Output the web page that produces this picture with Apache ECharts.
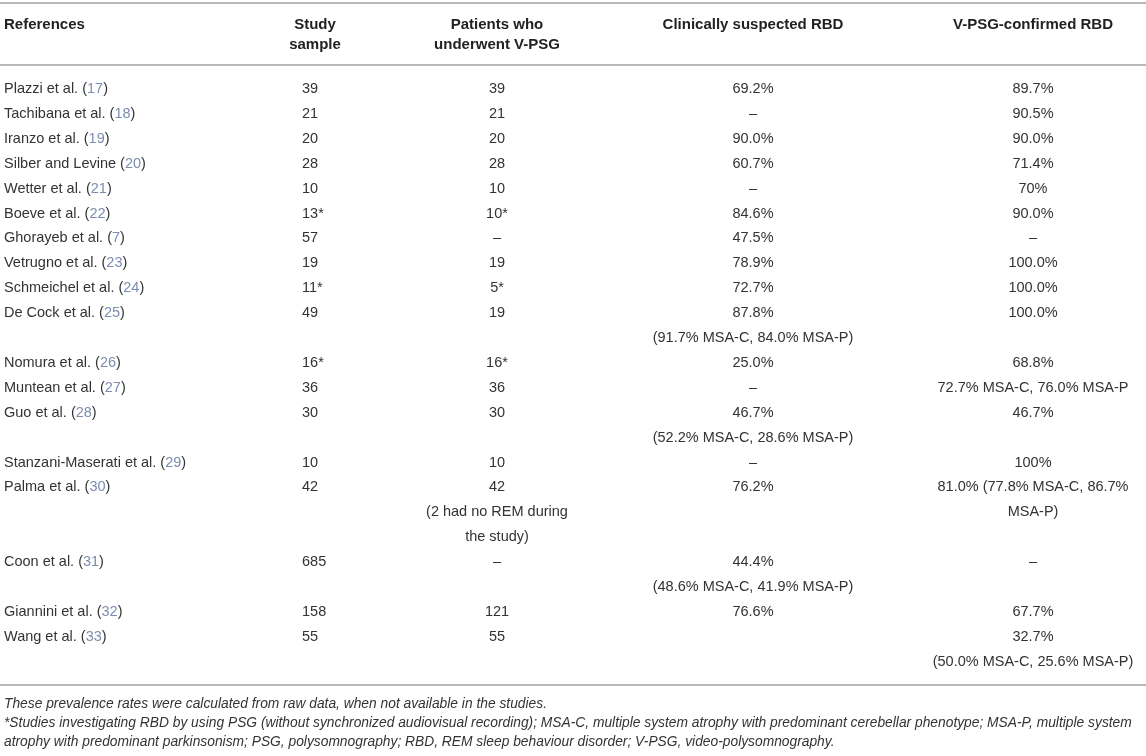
<!DOCTYPE html>
<html>
<head>
<meta charset="utf-8">
<script src="https://cdn.jsdelivr.net/npm/echarts@6/dist/echarts.min.js"></script>
<style>
  html, body { margin: 0; padding: 0; background: #fff; }
  #chart { width: 1146px; height: 756px; }
</style>
</head>
<body>
<div id="chart"></div>
<script>
const headers = ['References', 'Study\nsample', 'Patients who\nunderwent V-PSG', 'Clinically suspected RBD', 'V-PSG-confirmed RBD'];

const authors = [
  'Plazzi et al.', 'Tachibana et al.', 'Iranzo et al.', 'Silber and Levine', 'Wetter et al.',
  'Boeve et al.', 'Ghorayeb et al.', 'Vetrugno et al.', 'Schmeichel et al.', 'De Cock et al.',
  'Nomura et al.', 'Muntean et al.', 'Guo et al.', 'Stanzani-Maserati et al.', 'Palma et al.',
  'Coon et al.', 'Giannini et al.', 'Wang et al.'
];
const cites = ['17', '18', '19', '20', '21', '22', '7', '23', '24', '25', '26', '27', '28', '29', '30', '31', '32', '33'];
const sample = ['39', '21', '20', '28', '10', '13*', '57', '19', '11*', '49', '16*', '36', '30', '10', '42', '685', '158', '55'];
const vpsg = ['39', '21', '20', '28', '10', '10*', '–', '19', '5*', '19', '16*', '36', '30', '10',
  '42\n(2 had no REM during\nthe study)', '–', '121', '55'];
const suspected = ['69.2%', '–', '90.0%', '60.7%', '–', '84.6%', '47.5%', '78.9%', '72.7%',
  '87.8%\n(91.7% MSA-C, 84.0% MSA-P)', '25.0%', '–', '46.7%\n(52.2% MSA-C, 28.6% MSA-P)', '–',
  '76.2%', '44.4%\n(48.6% MSA-C, 41.9% MSA-P)', '76.6%', ''];
const confirmed = ['89.7%', '90.5%', '90.0%', '71.4%', '70%', '90.0%', '–', '100.0%', '100.0%', '100.0%',
  '68.8%', '72.7% MSA-C, 76.0% MSA-P', '46.7%', '100%', '81.0% (77.8% MSA-C, 86.7%\nMSA-P)', '–',
  '67.7%', '32.7%\n(50.0% MSA-C, 25.6% MSA-P)'];

const notes = [
  'These prevalence rates were calculated from raw data, when not available in the studies.',
  '*Studies investigating RBD by using PSG (without synchronized audiovisual recording); MSA-C, multiple system atrophy with predominant cerebellar phenotype; MSA-P, multiple system',
  'atrophy with predominant parkinsonism; PSG, polysomnography; RBD, REM sleep behaviour disorder; V-PSG, video-polysomnography.'
];

// layout
const FONT = "'Liberation Sans', Arial, sans-serif";
const BODY = '14.5px ' + FONT;
const PITCH = 24.9;
const FIRST = 89;
const colX = [4, 302, 497, 753, 1033];
const colAlign = ['left', 'left', 'center', 'center', 'center'];
const headX = [4, 315, 497, 753, 1033];

const columns = [null, sample, vpsg, suspected, confirmed];
const nLines = s => s.split('\n').length;

// line index where each row starts
const rowStart = [];
let total = 0;
authors.forEach((a, i) => {
  rowStart.push(total);
  total += Math.max(nLines(vpsg[i]), nLines(suspected[i]), nLines(confirmed[i]));
});

const cells = [];
const cellText = [];
authors.forEach((a, i) => {
  cells.push([colX[0], rowStart[i], 0]);
  cellText.push('{t|' + a + ' (}{c|' + cites[i] + '}{t|)}');
  for (let c = 1; c < 5; c++) {
    cells.push([colX[c], rowStart[i], c]);
    cellText.push(columns[c][i]);
  }
});

const myChart = echarts.init(document.querySelector('#chart'));

const option = {
  animation: false,
  backgroundColor: '#fff',
  grid: {
    left: 0,
    right: 0,
    top: FIRST - PITCH / 2,
    height: total * PITCH
  },
  xAxis: { type: 'value', min: 0, max: 1146, show: false },
  yAxis: { type: 'value', min: 0, max: total, inverse: true, show: false },
  series: [
    {
      type: 'custom',
      data: cells,
      renderItem(params, api) {
        const pt = api.coord([api.value(0), api.value(1)]);
        const col = api.value(2);
        return {
          type: 'text',
          x: pt[0],
          y: pt[1],
          style: {
            text: cellText[params.dataIndex],
            align: colAlign[col],
            verticalAlign: 'top',
            lineHeight: PITCH,
            font: BODY,
            fill: '#333',
            rich: {
              t: { font: BODY, fill: '#333', lineHeight: PITCH },
              c: { font: BODY, fill: '#7b8db0', lineHeight: PITCH }
            }
          }
        };
      }
    }
  ],
  graphic: [
    { type: 'line', shape: { x1: 0, y1: 3, x2: 1146, y2: 3 }, style: { stroke: '#b8b8b8', lineWidth: 2 } },
    { type: 'line', shape: { x1: 0, y1: 65, x2: 1146, y2: 65 }, style: { stroke: '#b8b8b8', lineWidth: 2 } },
    { type: 'line', shape: { x1: 0, y1: 685, x2: 1146, y2: 685 }, style: { stroke: '#b8b8b8', lineWidth: 2 } }
  ]
    .concat(headers.map((h, i) => ({
      type: 'text',
      x: headX[i],
      y: 15,
      style: {
        text: h,
        align: i === 0 ? 'left' : 'center',
        verticalAlign: 'top',
        lineHeight: 20,
        font: 'bold 15px ' + FONT,
        fill: '#222'
      }
    })))
    .concat(notes.map((n, i) => ({
      type: 'text',
      x: 4,
      y: 695 + i * 19,
      style: {
        text: n,
        align: 'left',
        verticalAlign: 'top',
        lineHeight: 19,
        font: 'italic 13.8px ' + FONT,
        fill: '#333'
      }
    })))
};

myChart.setOption(option);

window.addEventListener('resize', function() {
  myChart.resize();
});
</script>
</body>
</html>
